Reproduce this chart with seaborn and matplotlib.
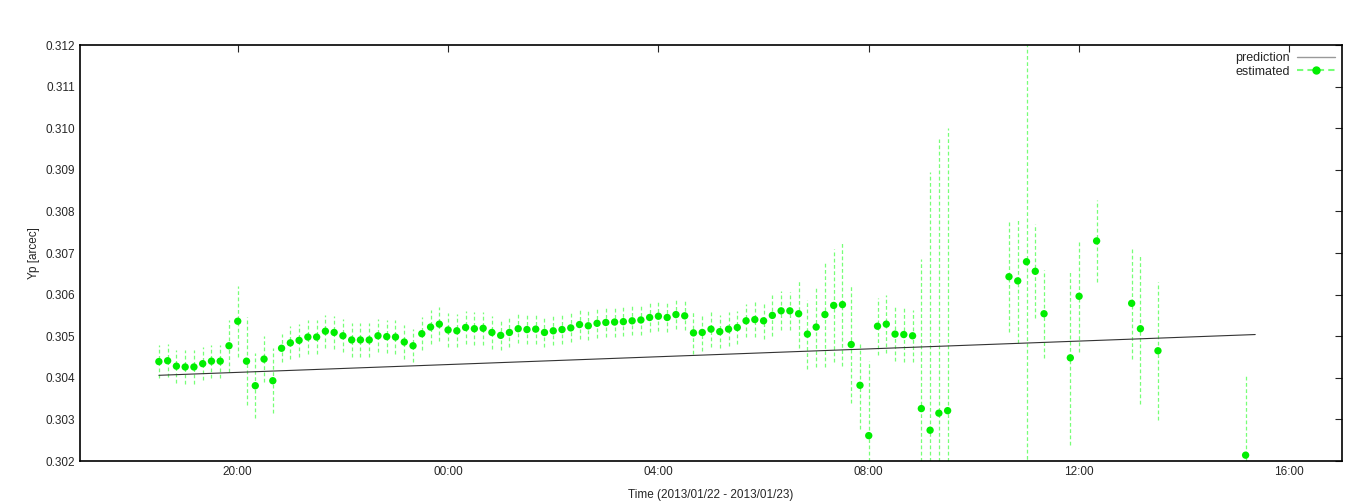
import numpy as np
import pandas as pd
import matplotlib
matplotlib.use("Agg")
import matplotlib.pyplot as plt
import seaborn as sns
from matplotlib.lines import Line2D

# estimated Yp, every 10 minutes from 18:30 (index into that grid)
est_index = list(range(0, 91)) + [97, 98, 99, 100, 101, 104, 105, 107, 111, 112, 114, 124]
est_value = [
    0.30439, 0.30441, 0.30428, 0.30426, 0.30426, 0.30434, 0.30440, 0.30440, 0.30477, 0.30536,
    0.30440, 0.30381, 0.30445, 0.30393, 0.30471, 0.30484, 0.30490, 0.30498, 0.30498, 0.30512,
    0.30509, 0.30501, 0.30491, 0.30491, 0.30491, 0.30501, 0.30499, 0.30498, 0.30486, 0.30477,
    0.30506, 0.30522, 0.30529, 0.30515, 0.30513, 0.30521, 0.30518, 0.30519, 0.30509,
    0.30502, 0.30509, 0.30518, 0.30516, 0.30517, 0.30509, 0.30513, 0.30516, 0.30520, 0.30528,
    0.30525, 0.30531, 0.30533, 0.30534, 0.30535, 0.30537, 0.30539, 0.30545, 0.30548, 0.30545,
    0.30552, 0.30549, 0.30508, 0.30509, 0.30517, 0.30511, 0.30517, 0.30521, 0.30537, 0.30540,
    0.30537, 0.30550, 0.30561, 0.30561, 0.30554, 0.30505, 0.30522, 0.30552, 0.30574, 0.30576,
    0.30480, 0.30382,
    0.30261, 0.30524, 0.30529, 0.30505, 0.30504, 0.30501, 0.30326, 0.30274, 0.30315, 0.30321,
    0.30643, 0.30633, 0.30679, 0.30656, 0.30554, 0.30448, 0.30596, 0.30729, 0.30579, 0.30518,
    0.30465, 0.30214,
]
est_error = [
    4, 4, 4, 4, 4, 4, 4, 4, 6.2, 8.5, 10.5, 7.8, 5.6, 7.8, 3.4, 4, 4, 4, 4, 4,
    4, 4, 4, 4, 4, 4, 4, 4, 4, 4, 4, 4, 4, 4, 4, 4, 4, 4, 4,
    3.5, 3.5, 3.5, 3.5, 3.5, 3.5, 3.5, 3.5, 3.5, 3.5, 3.5, 3.5, 3.5, 3.5, 3.5, 3.5, 3.5, 3.5, 3.5,
    3.5, 3.5, 3.5,
    5, 4.4, 4.2, 4, 4, 4, 4, 4.3, 4.3, 5, 4.7, 4.6, 8.2, 8.3, 9.6, 12.5, 13.6, 14.7, 14, 10.4,
    18, 6.9, 6.9, 6.4, 6.7, 6.2, 36, 62, 66, 68,
    13.4, 15, 52, 11.3, 10.6, 21, 13.3, 9.9, 13.3, 18, 16.6, 19.1,
]

# prediction (hours since 2013/01/22 00:00)
pred_hours = [18.5, 39.35]
pred_value = [0.30406, 0.30504]

tick_hours = [20, 24, 28, 32, 36, 40]
tick_labels = ["20:00", "00:00", "04:00", "08:00", "12:00", "16:00"]

est = pd.DataFrame({
    "hours": 18.5 + np.array(est_index) / 6.0,
    "value": est_value,
    "err": np.array(est_error) * 1e-4,
})
pred = pd.DataFrame({"hours": pred_hours, "value": pred_value})

sns.set_style("white")
plt.rcParams["font.family"] = ["Liberation Sans", "DejaVu Sans"]
plt.rcParams["font.size"] = 8.5

fig = plt.figure(figsize=(13.68, 5.04), dpi=100)
ax = fig.add_axes([80 / 1368, 43 / 504, 1262 / 1368, 416 / 504])

green = "#00ee00"
eb = ax.errorbar(est["hours"], est["value"], yerr=est["err"], fmt="none",
                 ecolor="#77ff77", elinewidth=0.9, capsize=0, zorder=2)
eb[2][0].set_linestyle((0, (3, 2)))
sns.lineplot(data=pred, x="hours", y="value", ax=ax, color="#333333", linewidth=0.8, zorder=3)
sns.scatterplot(data=est, x="hours", y="value", ax=ax, color=green, s=28,
                edgecolor="none", zorder=4)

ax.set_xlim(17, 41)
ax.set_ylim(0.302, 0.312)
ax.set_xticks(tick_hours)
ax.set_xticklabels(tick_labels)
ax.set_yticks(np.arange(0.302, 0.3125, 0.001))
ax.yaxis.set_major_formatter(matplotlib.ticker.FormatStrFormatter("%.3f"))
ax.tick_params(direction="in", top=True, right=True, length=5, width=0.8, labelsize=8.5)
for s in ax.spines.values():
    s.set_linewidth(1.2)
    s.set_color("black")
ax.set_xlabel("Time (2013/01/22 - 2013/01/23)", fontsize=8.5, labelpad=8)
ax.set_ylabel("Yp [arcec]", fontsize=8.5)

handles = [
    Line2D([], [], color="#999999", linewidth=1),
    Line2D([], [], color="#77ff77", linestyle=(0, (3, 2)), marker="o",
           markerfacecolor=green, markeredgecolor=green, markersize=5, markevery=[1]),
]
ax.legend(handles, ["prediction", "estimated"], loc="upper right", frameon=False,
          markerfirst=False, fontsize=9, handlelength=3, borderaxespad=0.2,
          labelspacing=0.1, handletextpad=0.6)

fig.savefig("out.png", dpi=100)
